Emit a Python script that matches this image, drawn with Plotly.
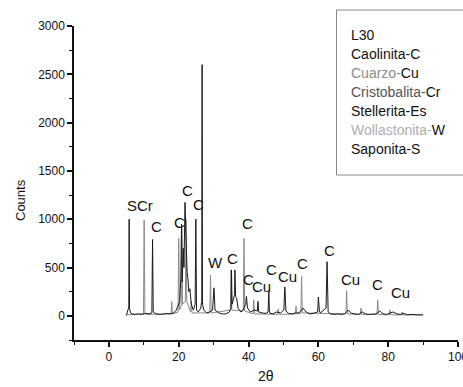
import plotly.graph_objects as go

# ---- data: main (black) pattern ----
black_x = [5.0, 5.4, 5.7, 5.8, 5.9, 6.2, 6.6, 7.5, 8.5, 9.5, 10.5, 11.5, 12.3, 12.5, 12.7,
           13.5, 15.0, 16.5, 17.5, 18.6, 19.3, 20.3, 20.6, 20.8, 21.0, 21.3, 21.5, 21.8, 22.0,
           22.2, 22.4, 22.6, 22.9, 23.2, 23.6, 24.2, 24.7, 24.9, 25.1, 25.6, 26.3, 26.6, 26.7,
           26.8, 27.2, 28.0, 28.8, 29.7, 30.1, 30.4, 31.5, 32.5, 33.5, 34.5, 35.0, 35.1, 35.3,
           35.7, 36.0, 36.1, 36.3, 36.6, 37.0, 37.8, 38.4, 39.2, 39.4, 39.7, 40.5, 41.6, 42.5,
           42.7, 42.9, 44.0, 45.0, 45.6, 45.8, 46.0, 47.0, 48.0, 49.2, 50.1, 50.4, 50.7, 51.5,
           52.5, 53.5, 54.5, 55.6, 56.5, 57.5, 58.5, 59.8, 60.0, 60.3, 60.6, 61.5, 62.2, 62.5,
           62.8, 63.5, 64.5, 65.5, 66.5, 67.5, 68.6, 69.5, 70.5, 71.5, 72.6, 73.5, 74.5, 75.5,
           76.5, 77.6, 78.5, 79.5, 80.6, 81.4, 82.5, 83.5, 84.5, 85.5, 86.5, 87.5, 88.5, 89.5, 90.0]
black_y = [5, 60, 90, 1000, 80, 30, 20, 15, 20, 15, 25, 20, 30, 790, 40,
           20, 15, 25, 20, 30, 60, 150, 400, 950, 350, 700, 500, 1175, 800,
           600, 450, 400, 250, 280, 120, 60, 120, 1000, 60, 40, 80, 150, 2600,
           120, 60, 30, 40, 60, 290, 60, 30, 20, 20, 40, 80, 475, 120,
           180, 220, 475, 200, 180, 80, 40, 60, 120, 200, 80, 40, 60, 50,
           150, 40, 30, 25, 40, 250, 30, 20, 40, 30, 60, 300, 50, 25,
           20, 30, 30, 80, 40, 20, 25, 40, 195, 50, 30, 60, 80, 560,
           40, 20, 15, 20, 15, 20, 60, 25, 20, 15, 40, 20, 15, 20,
           20, 50, 20, 15, 30, 40, 20, 15, 25, 10, 15, 10, 10, 10, 10]

# ---- data: second (gray) pattern ----
gray_x = [5.0, 9.9, 10.1, 10.3, 11.5, 17.8, 18.0, 18.2, 19.8, 20.0, 20.2, 20.7, 20.9, 21.1,
          21.9, 22.1, 22.3, 23.4, 23.6, 23.8, 28.9, 29.1, 29.3, 34.8, 35.0, 35.2, 38.5, 38.7,
          38.9, 41.3, 41.5, 41.7, 48.3, 48.5, 48.7, 53.4, 53.6, 53.8, 55.0, 55.2, 55.4, 67.9,
          68.1, 68.3, 72.0, 72.2, 72.4, 76.8, 77.0, 77.2, 80.3, 80.5, 80.7, 83.8, 84.0, 84.2, 90.0]
gray_y = [10, 20, 990, 20, 15, 20, 150, 20, 40, 800, 60, 100, 900, 120,
          150, 1000, 150, 40, 150, 30, 30, 420, 30, 60, 475, 60, 50, 800,
          50, 20, 165, 20, 15, 70, 15, 20, 100, 20, 30, 410, 30, 20,
          260, 20, 15, 80, 15, 15, 165, 15, 10, 60, 10, 10, 40, 10, 10]

# ---- peak labels ----
label_text = ["SCr", "C", "C", "C", "C", "W", "C", "C", "C", "Cu", "C", "Cu", "C", "C", "Cu", "C", "Cu"]
label_x = [8.9, 13.5, 20.3, 22.4, 25.6, 30.4, 35.4, 39.6, 40.0, 43.6, 46.6, 51.1, 55.5, 63.1, 69.1, 76.9, 83.4]
label_y = [1140, 925, 963, 1297, 1150, 552, 597, 952, 380, 300, 476, 407, 545, 676, 373, 321, 241]

# ---- legend text ----
legend_lines = [
    "L30",
    "Caolinita-C",
    "<span style='color:#8c8c8c'>Cuarzo-</span>Cu",
    "<span style='color:#555555'>Cristobalita-</span>Cr",
    "Stellerita-Es",
    "<span style='color:#b0b0b0'>Wollastonita-</span>W",
    "Saponita-S",
]

FONT = "Liberation Sans, Arial, sans-serif"
W, H = 463, 387
L, R, T, B = 74, 5, 26, 47
PW, PH = W - L - R, H - T - B

def px_x(p):
    return (p - L) / PW

def px_y(p):
    return (H - B - p) / PH

fig = go.Figure()
fig.add_trace(go.Scatter(x=gray_x, y=gray_y, mode="lines",
                         line=dict(color="#8a8a8a", width=1), showlegend=False))
fig.add_trace(go.Scatter(x=black_x, y=black_y, mode="lines",
                         line=dict(color="#1a1a1a", width=1), showlegend=False))

annotations = []
for t, x, y in zip(label_text, label_x, label_y):
    annotations.append(dict(x=x, y=y, xref="x", yref="y", text=t, showarrow=False,
                            font=dict(family=FONT, size=15, color="#111111")))

for i, line in enumerate(legend_lines):
    annotations.append(dict(x=px_x(349), y=px_y(35 + i * 19), xref="paper", yref="paper",
                            text=line, showarrow=False, xanchor="left", yanchor="middle",
                            font=dict(family=FONT, size=14, color="#111111")))

annotations.append(dict(x=px_x(20), y=px_y(200), xref="paper", yref="paper", text="Counts",
                        showarrow=False, textangle=-90, xanchor="center", yanchor="middle",
                        font=dict(family=FONT, size=13, color="#111111")))
annotations.append(dict(x=px_x(266), y=px_y(376), xref="paper", yref="paper", text="2θ",
                        showarrow=False, xanchor="center", yanchor="middle",
                        font=dict(family=FONT, size=14, color="#111111")))

fig.update_layout(
    width=W, height=H,
    margin=dict(l=L, r=R, t=T, b=B),
    paper_bgcolor="white", plot_bgcolor="white",
    font=dict(family=FONT, size=12, color="#111111"),
    annotations=annotations,
    shapes=[dict(type="rect", xref="paper", yref="paper",
                 x0=px_x(336.5), x1=px_x(475), y0=px_y(175), y1=px_y(10),
                 line=dict(color="#888888", width=1))],
)
fig.update_xaxes(range=[-10, 100], tick0=0, dtick=20, showline=True, linecolor="#111111",
                 linewidth=1.5, ticks="outside", ticklen=5, tickwidth=1.5, tickcolor="#111111",
                 showgrid=False, zeroline=False, automargin=False, ticklabeloverflow="allow",
                 minor=dict(ticks="outside", ticklen=3, tickwidth=1.2, dtick=10, tick0=0,
                            tickcolor="#111111", showgrid=False),
                 tickfont=dict(size=12))
fig.update_yaxes(range=[-250, 3000], tick0=0, dtick=500, showline=True, linecolor="#111111",
                 linewidth=1.5, ticks="outside", ticklen=5, tickwidth=1.5, tickcolor="#111111",
                 showgrid=False, zeroline=False, automargin=False,
                 minor=dict(ticks="outside", ticklen=3, tickwidth=1.2, dtick=250, tick0=0,
                            tickcolor="#111111", showgrid=False),
                 tickfont=dict(size=12))

fig.write_html("out.html")
